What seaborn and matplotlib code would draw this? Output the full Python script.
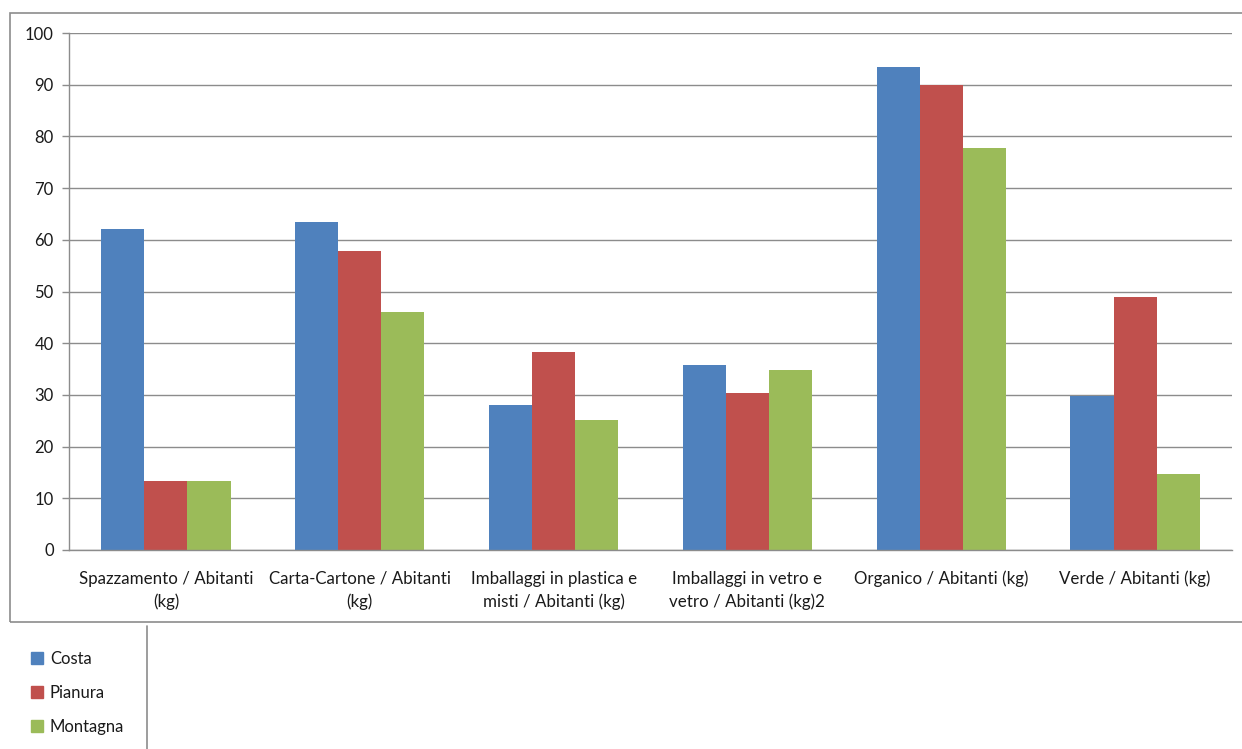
import matplotlib
matplotlib.use("Agg")
import matplotlib.pyplot as plt
import seaborn as sns
import pandas as pd
import numpy as np
from matplotlib.patches import Rectangle
from matplotlib.lines import Line2D

categories = [
    "Spazzamento / Abitanti\n(kg)",
    "Carta-Cartone / Abitanti\n(kg)",
    "Imballaggi in plastica e\nmisti / Abitanti (kg)",
    "Imballaggi in vetro e\nvetro / Abitanti (kg)2",
    "Organico / Abitanti (kg)",
    "Verde / Abitanti (kg)",
]
series = ["Costa", "Pianura", "Montagna"]
costa = [62.0, 63.4, 28.0, 35.8, 93.4, 29.8]
pianura = [13.3, 57.8, 38.3, 30.4, 90.0, 48.9]
montagna = [13.3, 46.0, 25.1, 34.8, 77.8, 14.7]
colors = ["#4F81BD", "#C0504D", "#9BBB59"]

rows = []
for s, vals in zip(series, [costa, pianura, montagna]):
    for c, v in zip(categories, vals):
        rows.append({"cat": c, "serie": s, "val": v})
df = pd.DataFrame(rows)

sns.set_style("white")
plt.rcParams["font.family"] = ["Lato", "DejaVu Sans"]

fig = plt.figure(figsize=(12.42, 7.49), dpi=100)
W, H = 1242, 749
ax = fig.add_axes([69 / W, 1 - 550 / H, (1232 - 69) / W, (550 - 33) / H])

sns.barplot(data=df, x="cat", y="val", hue="serie", order=categories,
            hue_order=series, palette=colors, saturation=1, width=0.667,
            gap=0, ax=ax, legend=False, linewidth=0, errorbar=None)

ax.set_ylim(0, 100)
ax.set_xlim(-0.5, 5.5)
ax.set_yticks(np.arange(0, 101, 10))
ax.set_xlabel("")
ax.set_ylabel("")
ax.grid(axis="y", color="#8C8C8C", linewidth=1.0)
ax.set_axisbelow(True)
for sp in ["top", "right"]:
    ax.spines[sp].set_visible(False)
for sp in ["left", "bottom"]:
    ax.spines[sp].set_color("#8C8C8C")
    ax.spines[sp].set_linewidth(1.0)

ax.set_xticks(range(len(categories)))
ax.set_xticklabels(categories, fontsize=12.2, color="#1a1a1a", linespacing=1.5)
ax.tick_params(axis="x", which="major", length=0, pad=15)
ax.set_xticks(np.arange(-0.5, 6.0, 1.0), minor=True)
ax.tick_params(axis="x", which="minor", length=5, color="#8C8C8C", width=1)
ax.tick_params(axis="y", length=5, color="#8C8C8C", width=1, labelsize=12,
               labelcolor="#1a1a1a", pad=6, left=True)

# chart border
fig.patches.append(Rectangle((10 / W, 1 - 622 / H), (1250 - 10) / W, (622 - 13) / H,
                             transform=fig.transFigure, fill=False,
                             edgecolor="#8C8C8C", linewidth=1.2, clip_on=False))
# legend separator line
fig.lines.append(Line2D([147 / W, 147 / W], [0, 1 - 626 / H], transform=fig.transFigure,
                        color="#8C8C8C", linewidth=1.2))

handles = [Rectangle((0, 0), 1, 1, color=c) for c in colors]
leg = fig.legend(handles, series, loc="upper left",
                 bbox_to_anchor=(24 / W, 1 - 644 / H), frameon=False,
                 fontsize=12, handlelength=0.75, handleheight=0.75,
                 handletextpad=0.4, labelspacing=1.08, borderaxespad=0)
for t in leg.get_texts():
    t.set_color("#1a1a1a")

fig.savefig("out.png", dpi=100, facecolor="white")
